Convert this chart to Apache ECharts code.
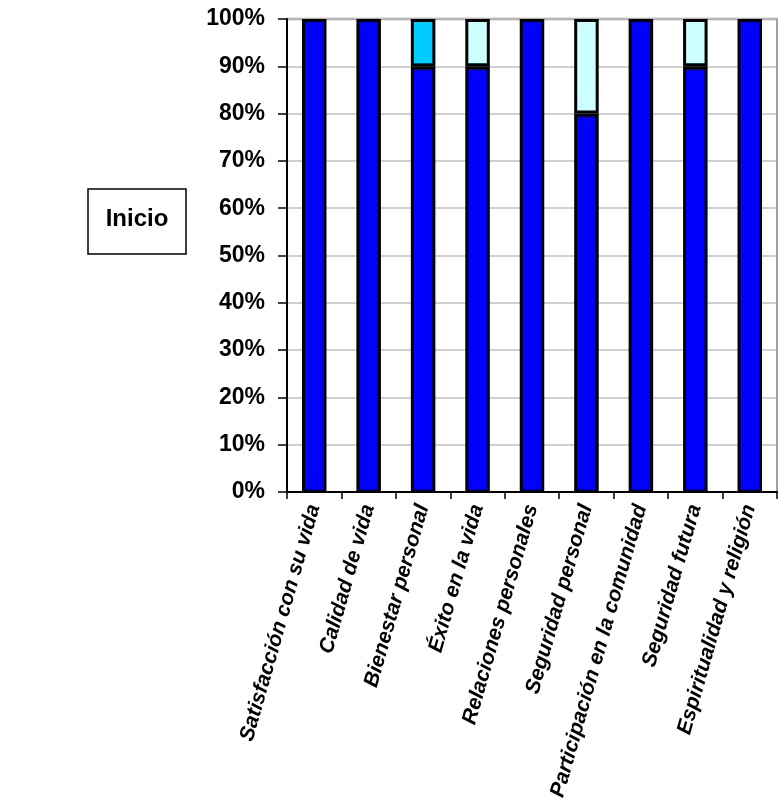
<!DOCTYPE html>
<html><head><meta charset="utf-8">
<script src="https://cdn.jsdelivr.net/npm/echarts@6/dist/echarts.min.js"></script>
<style>html,body{margin:0;padding:0;background:#fff}#c{width:778px;height:807px}</style>
</head><body><div id="c"></div>
<script>
const categories = ["Satisfacción con su vida","Calidad de vida","Bienestar personal","Éxito en la vida","Relaciones personales","Seguridad personal","Participación en la comunidad","Seguridad futura","Espiritualidad y religión"];
const serieAlto = [100,100,90,90,100,80,100,90,100];
const serieMedio = [null,null,10,null,null,null,null,null,null];
const serieBajo = [null,null,null,10,null,20,null,10,null];
const yTicks = [0,10,20,30,40,50,60,70,80,90,100];

const chart = echarts.init(document.getElementById('c'));
const bw = '45%';
const mk = (name, data, color) => ({
  name, type:'bar', stack:'t', data, barWidth:bw,
  itemStyle:{color, borderColor:'#000', borderWidth:3}
});
chart.setOption({
  animation:false,
  grid:{left:287, top:19, right:1, bottom:315},
  xAxis:{type:'category', data:categories,
    axisLine:{lineStyle:{color:'#000', width:2}},
    axisTick:{show:true, length:7, lineStyle:{color:'#000', width:1.5}},
    axisLabel:{rotate:74, interval:0, fontFamily:'Liberation Sans, Arial', fontWeight:'bold', fontStyle:'italic', fontSize:21, color:'#000', margin:13}
  },
  yAxis:[{type:'value', min:0, max:100, interval:10,
    axisLine:{show:true, lineStyle:{color:'#000', width:2}},
    axisTick:{show:true, length:9, lineStyle:{color:'#000', width:1.5}},
    splitLine:{lineStyle:{color:'#c0c0c0', width:1.5}},
    axisLabel:{formatter:v=>v+'%', fontFamily:'Liberation Sans, Arial', fontWeight:'bold', fontSize:23, color:'#000', margin:22}
  },{type:'value', min:0, max:100, interval:10, position:'right',
    axisLine:{show:true, lineStyle:{color:'#a0a0a0', width:2}},
    axisTick:{show:false}, axisLabel:{show:false}, splitLine:{show:false}
  }],
  series:[mk('Alto', serieAlto, '#0000ff'), mk('Medio', serieMedio, '#00ccff'), mk('Bajo', serieBajo, '#ccffff')],
  graphic:[
    {type:'rect', shape:{x:88, y:189, width:98, height:65}, style:{fill:'#fff', stroke:'#000', lineWidth:1.5}},
    {type:'text', x:137, y:219, style:{text:'Inicio', font:'bold 24px "Liberation Sans", Arial', fill:'#000', align:'center', verticalAlign:'middle'}},
    {type:'line', shape:{x1:287, y1:19, x2:777, y2:19}, style:{stroke:'#999', lineWidth:2.5}, z:-1}
  ]
});
</script></body></html>
